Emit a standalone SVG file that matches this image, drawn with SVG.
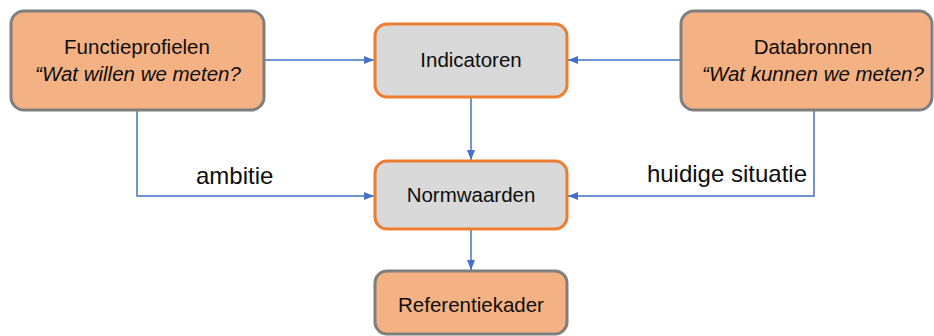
<svg xmlns="http://www.w3.org/2000/svg" width="934" height="336" viewBox="0 0 934 336">
<defs>
<marker id="arr" markerWidth="10" markerHeight="8" refX="10" refY="4" orient="auto" markerUnits="userSpaceOnUse">
<path d="M0,0 L10,4 L0,8 z" fill="#4472c4"/>
</marker>
<style>
.src{fill:#f4b183;stroke:#7f7f7f;stroke-width:3}
.mid{fill:#d9d9d9;stroke:#ed7d31;stroke-width:3}
.t{font-family:"Liberation Sans",Arial,sans-serif;font-size:20.5px;fill:#0d0d0d;text-anchor:middle}
.i{font-style:italic}
.lbl{font-family:"Liberation Sans",Arial,sans-serif;font-size:24px;fill:#0d0d0d}
.c{fill:none;stroke:#4472c4;stroke-width:1.5;marker-end:url(#arr)}
</style>
</defs>
<rect width="934" height="336" fill="#ffffff"/>
<g id="connectors">
<path class="c" d="M264,60 H374"/>
<path class="c" d="M681,60 H568"/>
<path class="c" d="M471,97 V160"/>
<path class="c" d="M137,110 V196 H374"/>
<path class="c" d="M814,110 V196 H568"/>
<path class="c" d="M471,229 V270"/>
<text class="lbl" x="196" y="184">ambitie</text>
<text class="lbl" x="807" y="182" text-anchor="end">huidige situatie</text>
</g>
<g id="functieprofielen">
<rect class="src" x="11" y="11" width="253" height="99" rx="13"/>
<text class="t" x="137" y="54">Functieprofielen</text>
<text class="t i" x="138" y="81">“Wat willen we meten?</text>
</g>
<g id="indicatoren">
<rect class="mid" x="375" y="24" width="192" height="73" rx="12"/>
<text class="t" x="471" y="67">Indicatoren</text>
</g>
<g id="databronnen">
<rect class="src" x="681" y="11" width="251" height="99" rx="13"/>
<text class="t" x="813" y="54">Databronnen</text>
<text class="t i" x="813" y="81">“Wat kunnen we meten?</text>
</g>
<g id="normwaarden">
<rect class="mid" x="375" y="161" width="192" height="68" rx="12"/>
<text class="t" x="471" y="202">Normwaarden</text>
</g>
<g id="referentiekader">
<rect class="src" x="375" y="271" width="192" height="63" rx="12"/>
<text class="t" x="471" y="312">Referentiekader</text>
</g>
</svg>
